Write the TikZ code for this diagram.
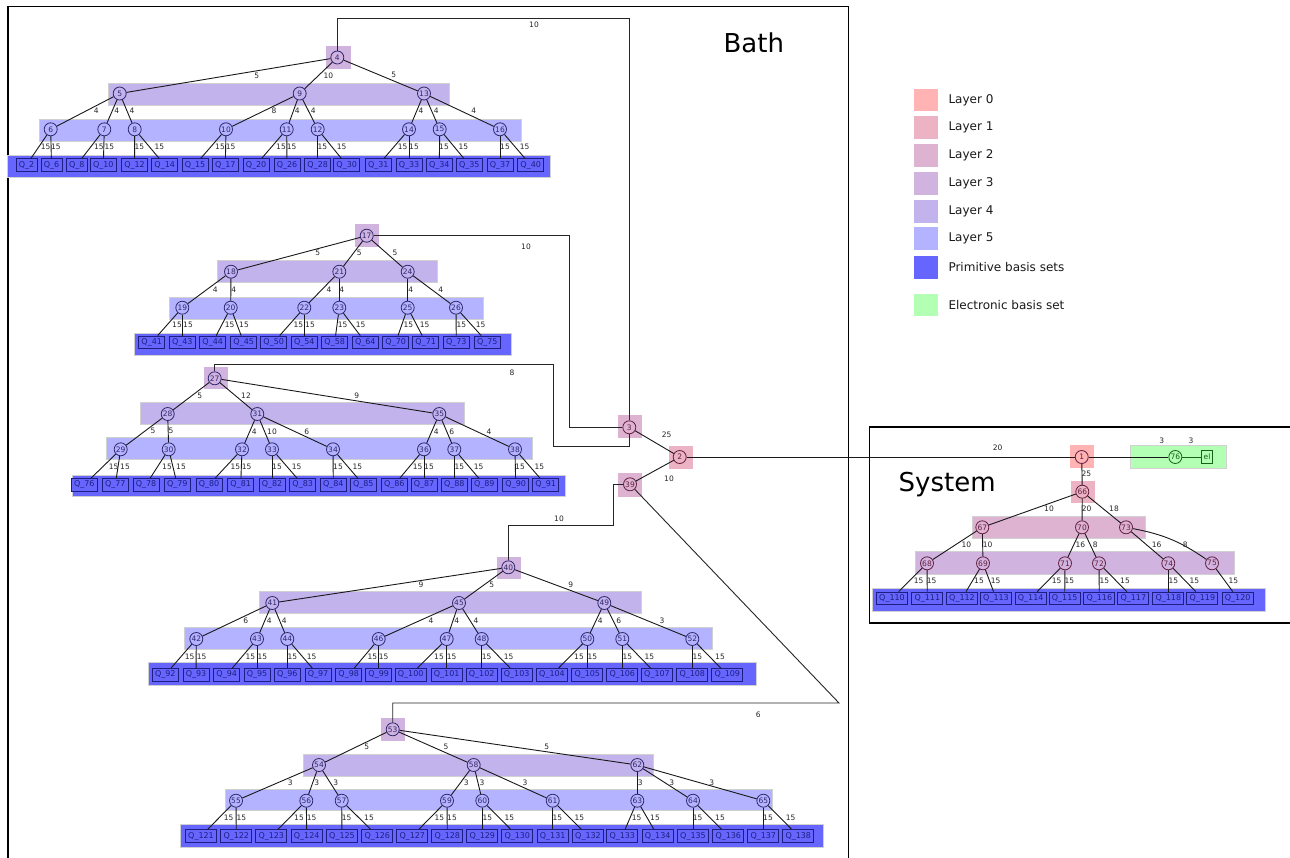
\documentclass[tikz,border=0pt]{standalone}
\usepackage{fontspec}
\setmainfont{DejaVu Sans}
\definecolor{L0}{RGB}{255,179,179}
\definecolor{L1}{RGB}{235,179,195}
\definecolor{L2}{RGB}{221,179,209}
\definecolor{L3}{RGB}{208,179,222}
\definecolor{L4}{RGB}{194,179,236}
\definecolor{L5}{RGB}{179,179,255}
\definecolor{prim}{RGB}{102,102,255}
\definecolor{elec}{RGB}{179,255,179}
\definecolor{ndark}{RGB}{48,40,110}
\definecolor{rdark}{RGB}{100,30,64}
\definecolor{qdark}{RGB}{30,30,130}
\definecolor{gdark}{RGB}{20,100,20}
\begin{document}
\begin{tikzpicture}[x=1pt,y=-1pt,
  conn/.style={line width=0.9pt, draw=black!90},
  rte/.style={line width=0.9pt, draw=black!85},
  bnd/.style={draw=black!18, line width=0.6pt},
  cn/.style={circle, minimum size=13pt, inner sep=0pt, line width=0.8pt, draw=ndark, text=ndark, fill=#1, font=\fontsize{7.5}{8}\selectfont},
  rn/.style={cn=#1, draw=rdark, text=rdark},
  qb/.style={rectangle, draw=qdark, fill=prim, text=qdark, line width=0.9pt, inner xsep=2.8pt, inner ysep=0pt, minimum height=12.5pt, font=\fontsize{8}{9}\selectfont},
  elab/.style={inner sep=0pt, text=black!85, font=\fontsize{7.5}{8}\selectfont},
  leg/.style={anchor=west, inner sep=0pt, font=\fontsize{12}{14}\selectfont, text=black!90},
  big/.style={inner sep=0pt, font=\fontsize{26}{30}\selectfont}
]
\clip (0,0) rectangle (1290,857);
\fill[white] (0,0) rectangle (1290,857);

% ---------- frames ----------
\draw[line width=1.5pt] (8,870) -- (8,6.7) -- (848.5,6.7) -- (848.5,870);
\draw[line width=1.5pt] (1300,427) -- (869.3,427) -- (869.3,623) -- (1300,623);
\node[big] (bathlabel) at (753.8,43.3) {Bath};
\node[big] (syslabel) at (947.2,485) {System};

% ---------- legend ----------
\foreach \c/\t/\y in {L0/Layer 0/100, L1/Layer 1/127.7, L2/Layer 2/155.5, L3/Layer 3/183.3, L4/Layer 4/211.3, L5/Layer 5/238.7, prim/Primitive basis sets/267.2, elec/Electronic basis set/305}
{
  \fill[\c] (914,\y-11.3) rectangle (937.7,\y+11.3);
  \node[leg] (leg\c) at (948.3,\y) {\t};
}

% ---------- layer bands ----------
% tree of 4
\filldraw[bnd, fill=L4] (108,83) rectangle (449,105.7);
\filldraw[bnd, fill=L5] (39,119) rectangle (521,141);
\filldraw[bnd, fill=prim] (7.5,155) rectangle (550,177);
\fill[L3] (326,46) rectangle (351,69);
% tree of 17
\filldraw[bnd, fill=L4] (217,260.7) rectangle (437,282.7);
\filldraw[bnd, fill=L5] (169,297.3) rectangle (483.3,319.3);
\filldraw[bnd, fill=prim] (134,333.3) rectangle (511.7,355);
\fill[L3] (355,224) rectangle (379,246.7);
% tree of 27
\filldraw[bnd, fill=L4] (140.7,402) rectangle (464.7,424);
\filldraw[bnd, fill=L5] (106.7,437.7) rectangle (532.7,459.3);
\filldraw[bnd, fill=prim] (72.7,475) rectangle (565.7,496.7);
\fill[L3] (204,366.7) rectangle (227.7,389.3);
% tree of 40
\filldraw[bnd, fill=L4] (259.3,591.7) rectangle (641,613.7);
\filldraw[bnd, fill=L5] (184.3,627.3) rectangle (712.3,649.3);
\filldraw[bnd, fill=prim] (148.3,662.7) rectangle (756.7,685);
\fill[L3] (497.3,556.7) rectangle (521,579.3);
% tree of 53
\filldraw[bnd, fill=L4] (303.7,754) rectangle (653.3,776.3);
\filldraw[bnd, fill=L5] (225.3,789) rectangle (772.7,810.7);
\filldraw[bnd, fill=prim] (180,824.7) rectangle (823.3,847.3);
\fill[L3] (381,718.3) rectangle (405,740.7);
% bath top
\fill[L2] (618,415) rectangle (641.7,437.7);
\fill[L1] (669,446) rectangle (693,468.7);
\fill[L2] (618,473) rectangle (641.7,496.7);
% system
\fill[L0] (1070,445) rectangle (1094,468);
\fill[L1] (1071,481) rectangle (1095,503.3);
\filldraw[bnd, fill=L2] (972,516) rectangle (1145,538.3);
\filldraw[bnd, fill=L3] (915,551.7) rectangle (1234,574);
\filldraw[bnd, fill=prim] (872.3,588.7) rectangle (1265.3,611.3);
\filldraw[bnd, fill=elec] (1130.7,445) rectangle (1226.7,468);

% ---------- nodes ----------
\node[rn=L2] (n3) at (629.3,427.3) {3};
\node[rn=L1] (n2) at (679.7,457) {2};
\node[rn=L2] (n39) at (630,484.3) {39};

% tree of 4
\node[cn=L3] (n4) at (337.3,57.5) {4};
\foreach \n/\x in {5/119.7,9/299.7,13/424}
  \node[cn=L4] (n\n) at (\x,93.5) {\n};
\foreach \n/\x in {6/50.7,7/104.3,8/134.7,10/226,11/286.7,12/317.7,14/409,15/439.7,16/500}
  \node[cn=L5] (n\n) at (\x,129.3) {\n};
\foreach \n/\x in {2/26.5,6/51.5,8/76.7,10/103.3,12/134.5,14/164.7,15/195,17/225.3,20/256,26/287,28/317.7,30/346.7,31/378.3,33/409,34/439.3,35/469.3,37/500,40/530.7}
  \node[qb] (q\n) at (\x,165) {Q\_\n};

% tree of 17
\node[cn=L3] (n17) at (366.7,235.7) {17};
\foreach \n/\x in {18/231,21/339.3,24/407.7}
  \node[cn=L4] (n\n) at (\x,271.7) {\n};
\foreach \n/\x in {19/182.3,20/230.7,22/304.3,23/339.3,25/407.7,26/456}
  \node[cn=L5] (n\n) at (\x,307.7) {\n};
\foreach \n/\x in {41/151.7,43/182.3,44/212.7,45/243.7,50/273.7,54/304.3,58/334.7,64/365.3,70/395.7,71/425.7,73/456.3,75/487.3}
  \node[qb] (q\n) at (\x,342.3) {Q\_\n};

% tree of 27
\node[cn=L3] (n27) at (214.7,378.3) {27};
\foreach \n/\x in {28/167.7,31/257.3,35/439.3}
  \node[cn=L4] (n\n) at (\x,414) {\n};
\foreach \n/\x in {29/120.7,30/168.7,32/242,33/272,34/333,36/424,37/454.3,38/515}
  \node[cn=L5] (n\n) at (\x,449.3) {\n};
\foreach \n/\x in {76/84.3,77/115.3,78/146,79/177.3,80/209,81/240.7,82/272,83/302.7,84/333.3,85/363.3,86/394.3,87/424,88/454.3,89/484.3,90/515.7,91/545.7}
  \node[qb] (q\n) at (\x,484.7) {Q\_\n};

% tree of 40
\node[cn=L3] (n40) at (508.3,567.3) {40};
\foreach \n/\x in {41/272.3,45/459,49/604.3}
  \node[cn=L4] (n\n) at (\x,603) {\n};
\foreach \n/\x in {42/196.3,43/257,44/287.3,46/378.7,47/446.7,48/481.7,50/587.3,51/622.3,52/692.3}
  \node[cn=L5] (n\n) at (\x,639) {\n};
\foreach \n/\x in {92/165.3,93/196,94/226.7,95/257,96/287.3,97/318,98/348.7,99/378.7,100/410.7,101/446.7,102/481.7,103/516.7,104/552,105/587.3,106/622.3,107/657,108/692.3,109/727.3}
  \node[qb] (q\n) at (\x,674.7) {Q\_\n};

% tree of 53
\node[cn=L3] (n53) at (392.7,729.3) {53};
\foreach \n/\x in {54/319,58/473.7,62/637.3}
  \node[cn=L4] (n\n) at (\x,765) {\n};
\foreach \n/\x in {55/236,56/306.3,57/341.7,59/447,60/482.3,61/552.7,63/637.3,64/693,65/763.3}
  \node[cn=L5] (n\n) at (\x,800.7) {\n};
\foreach \n/\x in {121/201,122/236.3,123/271.3,124/306.7,125/342,126/377.3,127/412.3,128/447.3,129/482.3,130/517.3,131/552.7,132/588,133/622.3,134/657.7,135/693,136/728.3,137/763.3,138/798.3}
  \node[qb] (q\n) at (\x,836) {Q\_\n};

% system
\node[rn=L0] (n1) at (1081.7,457) {1};
\node[rn=L1] (n66) at (1082.3,491.7) {66};
\foreach \n/\x in {67/982.3,70/1082,73/1126}
  \node[rn=L2] (n\n) at (\x,527.3) {\n};
\foreach \n/\x in {68/927,69/983,71/1065,72/1099,74/1168.3,75/1212}
  \node[rn=L3] (n\n) at (\x,563.3) {\n};
\foreach \n/\x in {110/892,111/927.3,112/962,113/996,114/1030.7,115/1064.7,116/1099.3,117/1133.3,118/1168.3,119/1202.3,120/1237.7}
  \node[qb] (q\n) at (\x,598.3) {Q\_\n};
\node[cn=elec, draw=gdark, text=gdark] (n76) at (1175.3,457) {76};
\node[rectangle, draw=gdark, fill=elec, text=gdark, line width=0.9pt, minimum width=11.5pt, minimum height=12.5pt, inner sep=0pt, font=\fontsize{7.5}{8}\selectfont] (nel) at (1207,457) {el};

% ---------- connections between trees ----------
\coordinate (r4) at (629.3,18.3);
\draw[rte] (n3) -- (r4) -| (n4);
\node[elab] (l4) at (534,25) {10};
\coordinate (r17) at (569.3,427.3);
\draw[rte] (n3) -- (r17) |- (n17);
\node[elab] (l17) at (526,247) {10};
\coordinate (r27a) at (629.3,446.7);
\coordinate (r27b) at (553.3,446.7);
\coordinate (r27c) at (553.3,364);
\draw[rte] (n3) -- (r27a) -- (r27b) -- (r27c) -| (n27);
\node[elab] (l27) at (512,372.3) {8};
\coordinate (r40a) at (613.3,484.3);
\coordinate (r40b) at (613.3,525);
\draw[rte] (n39) -- (r40a) -- (r40b) -| (n40);
\node[elab] (l40) at (559,519) {10};
\coordinate (r53) at (839,703);
\draw[rte] (n39) -- (r53) -| (n53);
\node[elab] (l53) at (758.3,714.7) {6};
\draw[conn] (n3) -- (n2) node[elab] at (666.7,434.7) {25};
\draw[conn] (n39) -- (n2) node[elab] at (669,479) {10};
\draw[conn] (n2) -- (n1) node[elab] at (997.7,448) {20};

% ---------- tree edges ----------
\foreach \p/\c/\l/\lx/\ly in {
  4/5/5/256.7/75.7, 4/9/10/328.3/75.7, 4/13/5/393.7/75.3,
  5/6/4/96.3/111, 5/7/4/116.7/111, 5/8/4/132/111,
  9/10/8/274/111, 9/11/4/297.3/111, 9/12/4/313.3/111,
  13/14/4/421/111, 13/15/4/436.3/111, 13/16/4/473.7/111,
  17/18/5/317.7/253.3, 17/21/5/359.3/253.3, 17/24/5/395/253.3,
  18/19/4/215.3/289.7, 18/20/4/233.7/289.7, 21/22/4/329/289.7,
  21/23/4/341.7/289.7, 24/25/4/410.7/289.7, 24/26/4/440.7/289.7,
  27/28/5/199.7/396, 27/31/12/246/396, 27/35/9/356.7/395.7,
  28/29/5/153/431.3, 28/30/5/171/431.3, 31/32/4/254.3/431.3,
  31/33/10/272/431.3, 31/34/6/306.7/431.3, 35/36/4/436.3/431.3,
  35/37/6/451.7/431.3, 35/38/4/489/431.3,
  40/41/9/421/584.3, 40/45/5/491.7/584.7, 40/49/9/570.7/584.7,
  41/42/6/245.7/621, 41/43/4/269.3/621, 41/44/4/284.3/621,
  45/46/4/431/621, 45/47/4/456.7/621, 45/48/4/476/621,
  49/50/4/600.3/621, 49/51/6/618.7/621, 49/52/3/662/621,
  53/54/5/366.7/747, 53/58/5/446/747, 53/62/5/546.7/747,
  54/55/3/290.3/782.7, 54/56/3/316.7/782.7, 54/57/3/335.7/782.7,
  58/59/3/466.3/782.7, 58/60/3/482/782.7, 58/61/3/525/782.7,
  62/63/3/640.3/782.7, 62/64/3/671.7/782.7, 62/65/3/711.7/782.7,
  1/66/25/1086.3/473.7,
  66/67/10/1049/509, 66/70/20/1086.7/509, 66/73/18/1114/509,
  67/68/10/966.3/545, 67/69/10/987.7/545, 70/71/16/1080.3/545,
  70/72/8/1095.3/545, 73/74/16/1156.7/545}
  \draw[conn] (n\p) -- (n\c) node[elab] at (\lx,\ly) {\l};
\draw[conn] (n73) to[bend left=12] (n75);
\node[elab] (l75) at (1185.3,545) {8};
\draw[conn] (n1) -- (n76) node[elab] at (1161.7,440.3) {3};
\draw[conn, draw=gdark] (n76) -- (nel) node[elab] at (1191,440.3) {3};

% ---------- leaf edges to primitive basis sets ----------
\foreach \p/\c/\lx/\ly in {
  6/2/45.7/147, 6/6/56/147, 7/8/99/147, 7/10/109.3/147, 8/12/139.3/147, 8/14/159.3/147,
  10/15/220/147, 10/17/230.7/147, 11/20/281/147, 11/26/291.7/147, 12/28/322.3/147, 12/30/341.7/147,
  14/31/402.7/147, 14/33/414/147, 15/34/444/147, 15/35/463.3/147, 16/37/505/147, 16/40/524.7/147,
  19/41/177/325, 19/43/188/325, 20/44/229.7/325, 20/45/244/325, 22/50/298.3/325, 22/54/310/325,
  23/58/342.7/325, 23/64/360.7/325, 25/70/408.3/325, 25/71/424.7/325, 26/73/461.3/325, 26/75/480.7/325,
  29/76/113.7/467.3, 29/77/125/467.3, 30/78/167/467.3, 30/79/181/467.3, 32/80/235.3/467.3, 32/81/246.7/467.3,
  33/82/277/467.3, 33/83/296.7/467.3, 34/84/338/467.3, 34/85/357.3/467.3, 36/86/417.7/467.3, 36/87/429/467.3,
  37/88/459.3/467.3, 37/89/478.7/467.3, 38/90/520/467.3, 38/91/539.3/467.3,
  42/92/189.7/656.7, 42/93/201.7/656.7, 43/94/250.3/656.7, 43/95/262.3/656.7, 44/96/292.3/656.7, 44/97/311.7/656.7,
  46/98/372.3/656.7, 46/99/383.7/656.7, 47/100/439/656.7, 47/101/451.7/656.7, 48/102/486.7/656.7, 48/103/508.7/656.7,
  50/104/579/656.7, 50/105/592.3/656.7, 51/106/627.3/656.7, 51/107/649.3/656.7, 52/108/697.3/656.7, 52/109/720/656.7,
  55/121/228.7/818.3, 55/122/241.3/818.3, 56/123/299/818.3, 56/124/311.7/818.3, 57/125/346.7/818.3, 57/126/369/818.3,
  59/127/439.3/818.3, 59/128/452/818.3, 60/129/487.3/818.3, 60/130/509.3/818.3, 61/131/557.3/818.3, 61/132/579.3/818.3,
  63/133/636.7/818.3, 63/134/655/818.3, 64/135/697.7/818.3, 64/136/720/818.3, 65/137/768/818.3, 65/138/790.7/818.3,
  68/110/918.7/581, 68/111/931.7/581, 69/112/979/581, 69/113/995.7/581, 71/114/1056.7/581, 71/115/1069.3/581,
  72/116/1104.3/581, 72/117/1125/581, 74/118/1173.3/581, 74/119/1194.3/581, 75/120/1233.3/581}
  \draw[conn] (n\p) -- (q\c) node[elab] at (\lx,\ly) {15};
\end{tikzpicture}
\end{document}
